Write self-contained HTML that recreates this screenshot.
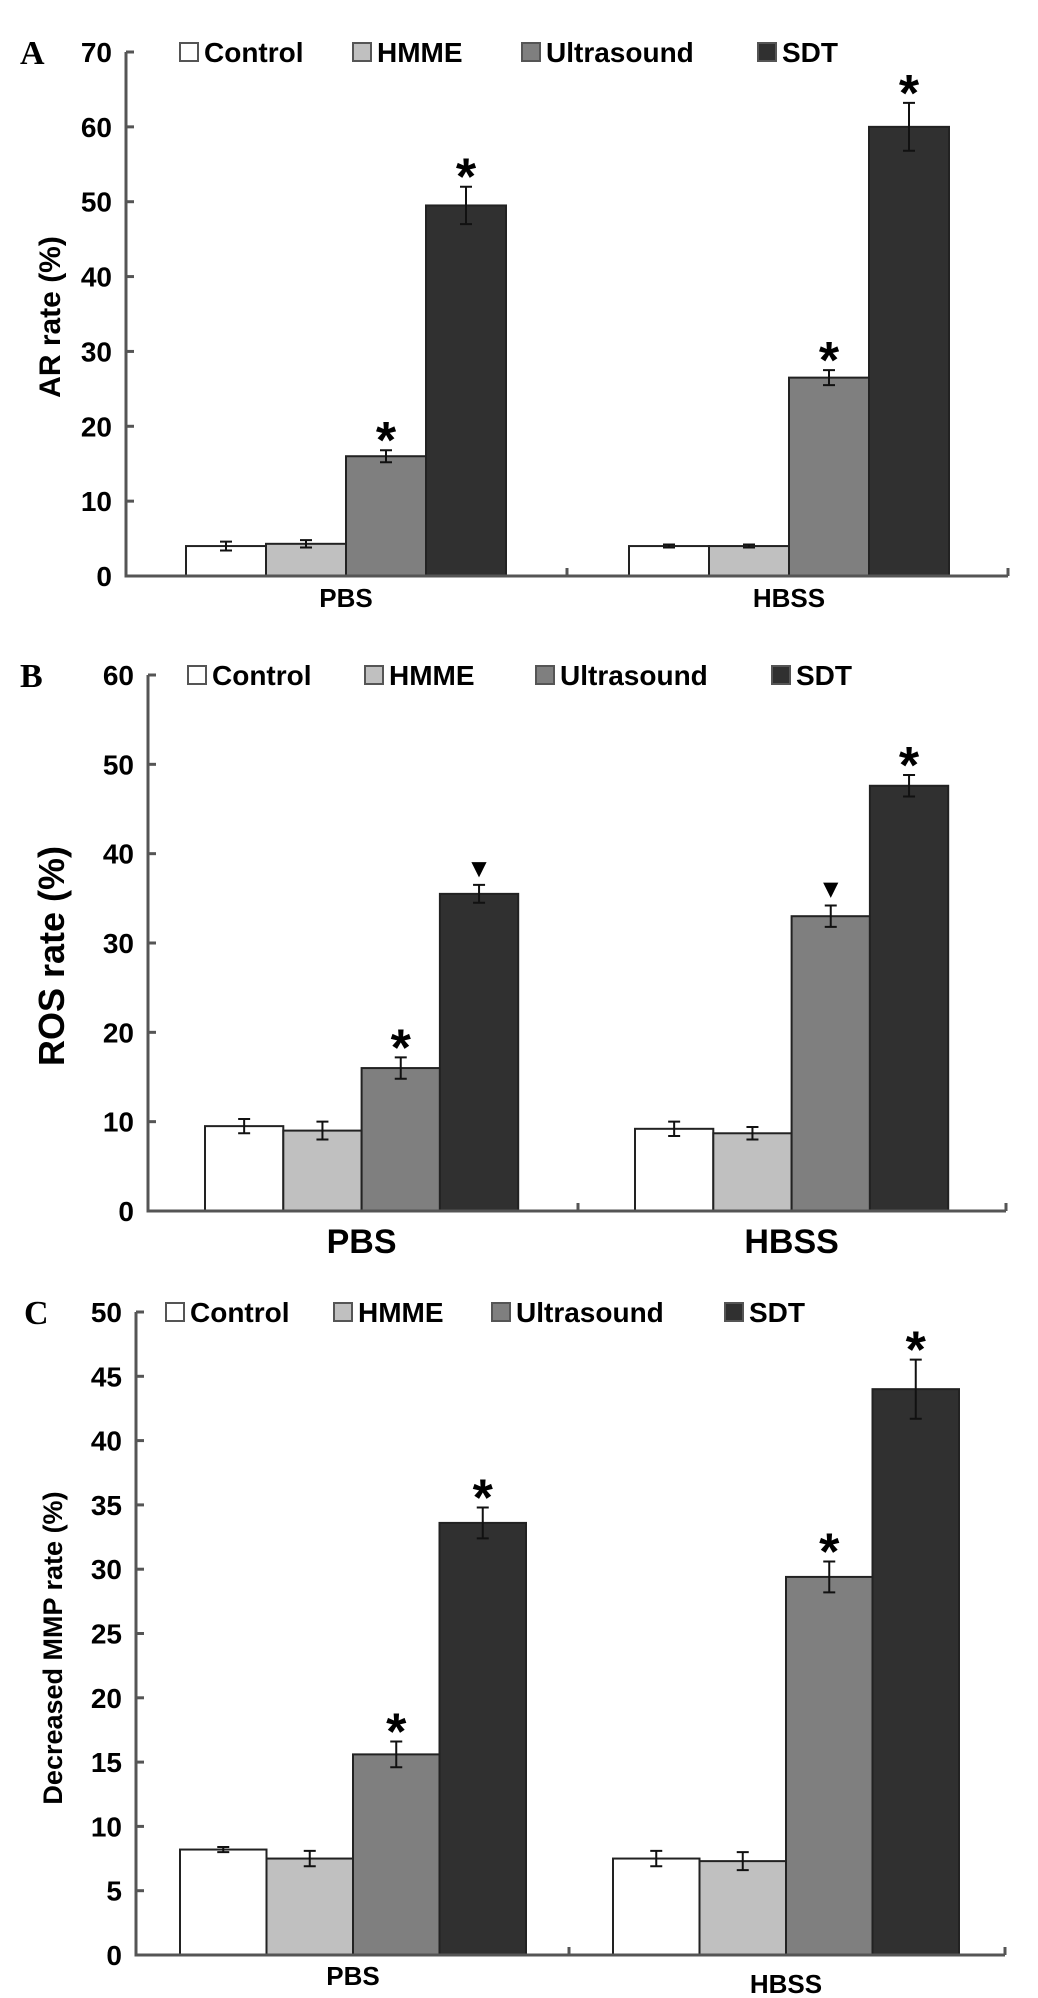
<!DOCTYPE html>
<html><head><meta charset="utf-8"><style>
html,body{margin:0;padding:0;background:#fff;}
svg{display:block;}
text{font-family:"Liberation Sans",Arial,sans-serif;font-weight:bold;fill:#000;}
</style></head><body>
<svg id="fig" width="1038" height="1998" viewBox="0 0 1038 1998" xmlns="http://www.w3.org/2000/svg"></svg>
<script>
const groups = ["PBS", "HBSS"];
const seriesNames = ["Control", "HMME", "Ultrasound", "SDT"];
const seriesColors = ["#ffffff", "#c0c0c0", "#7f7f7f", "#303030"];

const aValues = [[4, 4.3, 16, 49.5], [4, 4, 26.5, 60]];
const aErrors = [[0.6, 0.5, 0.8, 2.5], [0.2, 0.2, 1, 3.2]];
const aMarks = [["", "", "*", "*"], ["", "", "*", "*"]];
const aTicks = [0, 10, 20, 30, 40, 50, 60, 70];

const bValues = [[9.5, 9.0, 16, 35.5], [9.2, 8.7, 33, 47.6]];
const bErrors = [[0.8, 1.0, 1.2, 1.0], [0.8, 0.7, 1.2, 1.2]];
const bMarks = [["", "", "*", "▼"], ["", "", "▼", "*"]];
const bTicks = [0, 10, 20, 30, 40, 50, 60];

const cValues = [[8.2, 7.5, 15.6, 33.6], [7.5, 7.3, 29.4, 44]];
const cErrors = [[0.2, 0.6, 1.0, 1.2], [0.6, 0.7, 1.2, 2.3]];
const cMarks = [["", "", "*", "*"], ["", "", "*", "*"]];
const cTicks = [0, 5, 10, 15, 20, 25, 30, 35, 40, 45, 50];

const NS = "http://www.w3.org/2000/svg";
const svg = document.getElementById("fig");
function mk(tag, attrs, parent) {
  const e = document.createElementNS(NS, tag);
  for (const k in attrs) e.setAttribute(k, attrs[k]);
  (parent || svg).appendChild(e);
  return e;
}

function panel(cfg, values, errors, marks, ticks) {
  const g = mk("g", {});
  
  
  const maxV = ticks[ticks.length - 1];
  const y = v => cfg.y0 - (v / maxV) * (cfg.y0 - cfg.yTop);
  const barX = (gi, si) => cfg.groupStart[gi] + si * cfg.barW;

  const lt = mk("text", {x: cfg.letterX, y: cfg.yTop + 12, style: "font-family:'Liberation Serif',serif;font-size:34px;font-weight:bold"}, g);
  lt.textContent = cfg.letter;
  
  

  values.forEach((gv, gi) => gv.forEach((v, si) => {
    const x = barX(gi, si);
    const r = mk("rect", {x: x, y: y(v), width: cfg.barW, height: cfg.y0 - y(v), fill: seriesColors[si], stroke: "#222", "stroke-width": 2}, g);
    
    
    const cx = x + cfg.barW / 2, e = errors[gi][si];
    const eb = mk("path", {d: `M${cx} ${y(v + e)}V${y(v - e)}M${cx - 6} ${y(v + e)}H${cx + 6}M${cx - 6} ${y(v - e)}H${cx + 6}`, stroke: "#111", "stroke-width": 2, fill: "none"}, g);
    
    
    if (marks[gi][si]) {
      const m = marks[gi][si];
      const t = mk("text", {x: cx, y: y(v + e) - (m === "*" ? -8 : 8), "text-anchor": "middle", "font-size": m === "*" ? 52 : 26}, g);
      t.textContent = m;
      
      
    }
  }));

  const ax = mk("path", {d: `M${cfg.x0} ${cfg.yTop}V${cfg.y0}H${cfg.xEnd}M${cfg.xMid} ${cfg.y0}v-8M${cfg.xEnd} ${cfg.y0}v-8`, stroke: "#555", "stroke-width": 3, fill: "none"}, g);
  
  
  ticks.forEach(t => {
    const yy = y(t);
    mk("line", {x1: cfg.x0, x2: cfg.x0 + 8, y1: yy, y2: yy, stroke: "#555", "stroke-width": 3}, g);
    const tl = mk("text", {x: cfg.x0 - 14, y: yy + 10, "text-anchor": "end", "font-size": cfg.tickFs}, g);
    tl.textContent = t;
    
    
  });
  groups.forEach((gn, gi) => {
    const t = mk("text", {x: cfg.groupStart[gi] + 2 * cfg.barW, y: cfg.groupLabelY[gi], "text-anchor": "middle", "font-size": cfg.groupFs}, g);
    t.textContent = gn;
    
    
  });
  const yt = mk("text", {x: 0, y: 0, "text-anchor": "middle", "font-size": cfg.titleFs, transform: `translate(${cfg.titleX},${cfg.titleY}) rotate(-90)`}, g);
  yt.textContent = cfg.title;
  
  

  seriesNames.forEach((s, si) => {
    const lx = cfg.legendX[si], ly = cfg.yTop;
    const b = mk("rect", {x: lx, y: ly - 9, width: 18, height: 18, fill: seriesColors[si], stroke: "#555", "stroke-width": 2}, g);
    
    
    const t = mk("text", {x: lx + 24, y: ly + 10, "font-size": 28}, g);
    t.textContent = s;
    
    
  });
}

panel({letter: "A", letterX: 20, x0: 126, xEnd: 1008, xMid: 567, y0: 576, yTop: 52, barW: 80,
  groupStart: [186, 629], groupLabelY: [607, 607], groupFs: 26, tickFs: 28,
  title: "AR rate (%)", titleX: 60, titleY: 317, titleFs: 30, legendX: [180, 353, 522, 758]},
  aValues, aErrors, aMarks, aTicks);
panel({letter: "B", letterX: 20, x0: 148, xEnd: 1006, xMid: 578, y0: 1211, yTop: 675, barW: 78.3,
  groupStart: [205, 635], groupLabelY: [1253, 1253], groupFs: 34, tickFs: 28,
  title: "ROS rate (%)", titleX: 64, titleY: 956, titleFs: 36, legendX: [188, 365, 536, 772]},
  bValues, bErrors, bMarks, bTicks);
panel({letter: "C", letterX: 24, x0: 136, xEnd: 1005, xMid: 569, y0: 1955, yTop: 1312, barW: 86.5,
  groupStart: [180, 613], groupLabelY: [1985, 1993], groupFs: 26, tickFs: 28,
  title: "Decreased MMP rate (%)", titleX: 62, titleY: 1648, titleFs: 27, legendX: [166, 334, 492, 725]},
  cValues, cErrors, cMarks, cTicks);
</script>
</body></html>
